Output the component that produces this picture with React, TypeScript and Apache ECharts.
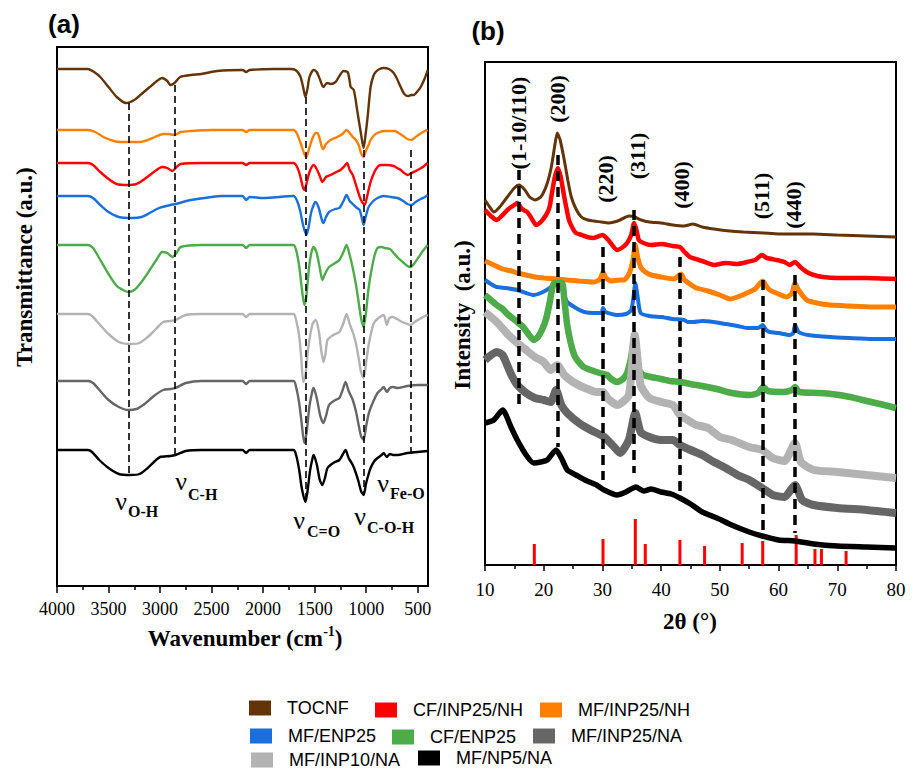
import React, { useEffect, useRef } from 'react';
import * as echarts from 'echarts';

const SERIF = "'Liberation Serif', 'Times New Roman', serif";
const SANS = "'Liberation Sans', Arial, sans-serif";

// ---------- names & colours ----------
const sampleNames = ['TOCNF', 'CF/INP25/NH', 'MF/INP25/NH', 'MF/ENP25', 'CF/ENP25', 'MF/INP25/NA', 'MF/INP10/NA', 'MF/NP5/NA'];
const sampleColors = ['#623408', '#ff0000', '#ff8000', '#1b6fdc', '#4dab4a', '#666666', '#b3b3b3', '#000000'];

// ---------- (a) FTIR, [wavenumber cm-1, transmittance a.u. (offset)] ----------
const ftirTOCNF = [[4000,517],[3700,517],[3640,514],[3580,509],[3500,499],[3420,489],[3330,483],[3250,486],[3180,492],[3100,499],[3030,505],[2980,508],[2930,505],[2900,501],[2860,503],[2805,509],[2700,511],[2600,512],[2445,515],[2200,516],[2165,514],[2130,516],[1900,517],[1735,517],[1686,516],[1640,510],[1610,498],[1590,489],[1570,497],[1550,509],[1510,516],[1480,514],[1450,507],[1415,499],[1380,503],[1345,502],[1297,504],[1260,510],[1220,515],[1180,514],[1160,505],[1150,499],[1120,496],[1083,473],[1050,452],[1025,438],[1005,452],[986,469],[957,499],[930,510],[908,514],[870,517],[830,518],[780,517],[733,513],[700,507],[665,499],[630,492],[597,490],[560,491],[539,491],[500,495],[471,499],[430,508],[403,516]];
const ftirMF_INP25_NH = [[4000,456],[3700,456],[3630,454],[3550,449],[3450,445],[3380,444],[3290,444],[3200,444],[3120,446],[3050,449],[2970,452],[2920,452],[2860,451],[2800,454],[2700,455],[2500,456],[2200,456],[2165,454],[2130,456],[1705,456],[1670,452],[1630,441],[1600,432],[1580,429],[1555,437],[1520,448],[1490,453],[1473,453],[1450,447],[1430,439],[1415,437],[1390,442],[1345,446],[1280,449],[1230,452],[1190,456],[1160,453],[1130,449],[1100,446],[1073,441],[1050,433],[1025,429],[1000,436],[976,441],[957,446],[920,451],[890,453],[830,455],[763,455],[720,455],[685,453],[640,450],[600,447],[560,446],[520,449],[480,452],[430,455],[403,456]];
const ftirCF_INP25_NH = [[4000,423],[3700,423],[3650,421],[3580,414],[3500,407],[3420,402],[3320,401],[3230,402],[3150,407],[3060,414],[2980,419],[2930,418],[2880,415],[2840,419],[2800,422],[2600,423],[2200,423],[2165,421],[2130,423],[1705,423],[1670,419],[1640,410],[1615,399],[1600,396],[1580,402],[1550,414],[1510,421],[1480,417],[1450,410],[1425,404],[1390,409],[1345,411],[1290,414],[1250,416],[1210,420],[1185,423],[1160,416],[1130,411],[1090,398],[1050,386],[1015,381],[990,390],[957,404],[920,414],[890,419],[860,421],[800,421],[733,420],[700,418],[665,416],[630,413],[597,411],[560,413],[500,416],[450,419],[403,423]];
const ftirMF_ENP25 = [[4000,390],[3700,390],[3650,388],[3580,381],[3500,374],[3400,369],[3270,368],[3180,369],[3100,373],[3030,377],[2980,379],[2900,381],[2850,382],[2700,386],[2500,389],[2400,390],[2200,390],[2165,386],[2130,389],[2000,388],[1705,390],[1670,385],[1640,375],[1610,360],[1580,351],[1560,358],[1530,375],[1490,384],[1460,378],[1430,366],[1415,363],[1390,369],[1360,374],[1300,377],[1260,378],[1220,385],[1190,391],[1160,385],[1120,381],[1090,378],[1063,376],[1040,367],[1025,361],[1005,369],[976,379],[930,385],[890,388],[830,390],[760,389],[695,388],[640,385],[600,382],[560,381],[520,384],[470,387],[430,389],[403,391]];
const ftirCF_ENP25 = [[4000,341],[3700,341],[3650,338],[3580,326],[3500,312],[3420,300],[3340,295],[3310,294],[3250,296],[3180,304],[3100,316],[3030,327],[2980,334],[2930,333],[2880,329],[2840,333],[2800,339],[2600,341],[2200,341],[2165,338],[2130,341],[1705,341],[1680,336],[1650,320],[1625,298],[1600,281],[1580,290],[1555,318],[1530,334],[1510,339],[1480,333],[1450,318],[1425,306],[1400,312],[1360,319],[1300,323],[1260,326],[1220,334],[1190,341],[1160,331],[1130,318],[1100,302],[1073,284],[1050,268],[1025,259],[1000,275],[980,295],[957,311],[920,330],[890,338],[850,339],[820,338],[770,337],[733,333],[690,328],[645,324],[600,320],[570,319],[530,323],[490,329],[450,335],[403,341]];
const ftirMF_INP10_NA = [[4000,272],[3700,272],[3660,270],[3590,262],[3500,252],[3400,244],[3290,242],[3200,243],[3120,249],[3040,257],[2970,264],[2900,265],[2850,266],[2750,271],[2600,272],[2200,272],[2165,269],[2130,272],[1705,272],[1680,266],[1650,250],[1630,228],[1610,204],[1590,210],[1560,240],[1520,262],[1490,266],[1460,255],[1435,235],[1415,224],[1395,232],[1375,246],[1320,251],[1260,254],[1220,263],[1190,272],[1160,262],[1130,254],[1100,243],[1073,228],[1050,214],[1025,208],[1000,224],[976,241],[950,254],[925,263],[880,268],[830,271],[800,261],[775,268],[745,269],[700,267],[650,264],[600,262],[570,261],[530,264],[480,267],[430,270],[403,271]];
const ftirMF_INP25_NA = [[4000,205],[3700,205],[3650,203],[3580,195],[3500,186],[3400,179],[3310,176],[3230,177],[3150,182],[3060,190],[2970,196],[2900,197],[2850,198],[2750,203],[2600,205],[2200,205],[2165,202],[2130,205],[1705,205],[1680,199],[1650,183],[1625,162],[1600,143],[1580,152],[1550,180],[1520,196],[1510,198],[1480,188],[1445,170],[1415,163],[1390,170],[1360,181],[1300,186],[1260,188],[1225,197],[1200,204],[1170,195],[1130,186],[1100,175],[1073,161],[1050,150],[1025,146],[1000,160],[976,172],[957,178],[920,187],[890,193],[850,197],[830,199],[800,194],[770,198],[740,199],[695,198],[600,200],[500,201],[403,201]];
const ftirMF_NP5_NA = [[4000,136],[3700,136],[3660,134],[3590,126],[3500,118],[3400,112],[3290,111],[3200,112],[3120,118],[3050,125],[3000,129],[2900,130],[2850,131],[2750,135],[2600,136],[2200,136],[2165,133],[2130,136],[1705,136],[1680,131],[1650,116],[1625,98],[1590,84],[1570,94],[1545,115],[1520,128],[1510,131],[1480,122],[1450,106],[1425,101],[1400,108],[1375,118],[1320,123],[1260,126],[1225,132],[1200,136],[1170,128],[1130,121],[1100,113],[1073,104],[1050,95],[1025,91],[1000,103],[976,112],[957,118],[920,125],[890,128],[850,131],[830,133],[800,129],[770,132],[740,131],[695,131],[600,133],[500,134],[403,135]];

const ftirMajorTicks = [500, 1000, 1500, 2000, 2500, 3000, 3500, 4000];
const ftirMinorTicks = [750, 1250, 1750, 2250, 2750, 3250, 3750];
// dashed guide lines: [wavenumber, from, to]
const ftirGuides = [[3300, 483, 109], [2860, 501, 129], [1585, 489, 86], [1025, 436, 91], [570, 436, 128]];

// ---------- (b) XRD, [2θ °, intensity a.u. (offset)] ----------
const xrdTOCNF = [[10,365],[10.8,358],[11.5,353],[12.5,358],[13.8,368],[15,377],[15.8,380],[16.8,375],[17.6,368],[18.5,365],[19.5,368],[20.5,380],[21.3,398],[21.9,420],[22.3,432],[22.8,425],[23.5,405],[24.1,385],[24.7,368],[25.5,356],[26.4,348],[27.5,345],[28.5,344],[29.8,343],[31,342],[32,343],[33,345],[34.5,349],[35.5,348],[36.6,345],[38,343],[40,342],[42,340],[43.9,339],[45.4,341],[47,338],[49,336],[51.7,334],[54,333],[57.4,332],[60,331],[62,331],[65.9,331],[70,330],[75,329],[80,328]];
const xrdCF_INP25_NH = [[10,355],[11,349],[12,345],[13,350],[14,356],[15,360],[15.5,362],[16.3,356],[17.2,353],[18,346],[18.7,340],[19.5,343],[20.4,350],[21,358],[21.4,372],[21.9,388],[22.4,397],[22.9,388],[23.5,368],[24.3,345],[25,336],[25.5,332],[26.5,330],[27.4,328],[28.5,327],[30,330],[31,325],[32.5,315],[33.5,318],[34.2,322],[34.9,330],[35.4,342],[35.8,335],[36.2,325],[37,322],[38.3,320],[40,321],[42,319],[43.2,318],[44,313],[44.9,308],[47,304],[49,300],[51,302],[53,301],[54.6,303],[56,305],[57.2,310],[58,307],[59.7,305],[61,303],[61.9,300],[62.8,303],[63.7,298],[64.8,293],[66,290],[67.6,288],[70,287],[75,287],[80,286]];
const xrdMF_INP25_NH = [[10,304],[11.5,300],[13,296],[14.5,294],[15.5,292],[17,290],[18.5,288],[20,287],[22.3,286],[24,285],[26,284],[28.6,283],[29.6,286],[30.1,293],[30.6,287],[31.5,284],[33,285],[33.7,285],[34.6,292],[35.2,305],[35.6,320],[36,308],[36.5,298],[37.3,293],[38.3,290],[40,288],[42.2,286],[43.4,291],[44,285],[44.9,281],[46,277],[48,274],[50,270],[51.7,266],[53,268],[54.6,272],[56,276],[57.3,284],[57.9,279],[58.5,275],[60,271],[61.4,268],[62.3,272],[62.8,282],[63.4,275],[64.8,265],[66.5,262],[68.8,260],[72,259],[76,258],[80,258]];
const xrdMF_ENP25 = [[10,285],[11,281],[12,278],[13.5,277],[15.5,275],[17,272],[18.3,270],[19.5,272],[20.5,275],[21.5,279],[22.3,281],[23,277],[24,263],[25.5,257],[26.9,253],[28.5,252],[29.8,252],[30.1,257],[30.5,253],[32.5,250],[34,251],[34.9,255],[35.3,268],[35.6,282],[36,268],[36.5,252],[38,249],[40,248],[42,246],[43.9,245],[44.5,243],[45.5,243],[47,244],[48.9,243],[51,241],[53,239],[54.6,237],[56.5,237],[57.3,240],[57.9,235],[58.5,233],[60,232],[61.9,230],[62.5,232],[62.8,240],[63.3,234],[63.7,232],[65,230],[68.8,228],[72,227],[76,226],[80,226]];
const xrdCF_ENP25 = [[10,270],[11,265],[12,260],[13,256],[14,250],[15.5,243],[16.5,238],[17.5,230],[18.3,225],[19,228],[19.7,235],[20.4,246],[21,262],[21.5,278],[21.8,282],[23.1,282],[23.5,266],[24,240],[24.6,222],[25.2,210],[25.7,205],[26.8,198],[28,195],[29.5,192],[30.8,190],[31.5,186],[32.5,183],[33.5,186],[34.2,192],[34.8,205],[35.4,225],[35.8,212],[36.2,195],[37,190],[38.3,188],[40,186],[41.5,184],[43.4,183],[45,181],[47,179],[49.5,176],[52,172],[55.1,170],[56.5,172],[57.4,178],[58.2,174],[60.8,173],[62.3,175],[62.8,178],[63.5,173],[66.6,172],[69,171],[72.2,168],[75,164],[78,160],[80,157]];
const xrdMF_INP25_NA = [[10,205],[12,213],[13,210],[14.5,190],[15.5,180],[17,172],[18.5,167],[20,165],[21.2,163],[22.1,175],[23,160],[24,152],[26,142],[28,135],[30.3,128],[32,118],[33,112],[34.5,125],[35.6,152],[36.5,133],[38,128],[40,125],[42,125],[43.2,120],[45,115],[47,110],[49,103],[51,97],[53,90],[55,85],[57.2,77],[59,70],[61,68],[62.8,80],[64,65],[66,60],[70,57],[75,55],[80,52]];
const xrdMF_INP10_NA = [[10,253],[12,243],[14,230],[15.5,222],[17,215],[18.5,208],[20,203],[21.2,195],[22.3,200],[23.5,190],[25,183],[27,177],[29,173],[30.1,173],[31,166],[32.5,160],[34.5,170],[35.5,230],[36.5,180],[38,167],[40,163],[42,160],[43.2,150],[44.5,145],[46,140],[48,137],[50,128],[52,125],[55,118],[57.2,115],[59,107],[61,104],[62.8,122],[63.8,103],[66,95],[70,93],[75,90],[80,87]];
const xrdMF_NP5_NA = [[10,142],[11.5,145],[13,155],[14.5,137],[15.5,125],[17,110],[18.3,102],[19.5,103],[20.6,105],[22.1,115],[23,107],[24,95],[25.5,90],[27,85],[29,80],[30.3,75],[32.5,70],[34,73],[35.7,78],[37,74],[38.3,76],[40,73],[41.7,71],[43.2,67],[45,61],[47,53],[49.5,47],[52,40],[55,33],[57.2,29],[60,25],[62.8,24],[66,21],[70,19],[75,18],[80,17]];

// Fe3O4 reference sticks [2θ, relative height]
const refSticks = [[18.4,21],[30.1,26],[35.6,46],[37.3,21],[43.2,25],[47.4,19],[53.8,22],[57.3,24],[63.0,30],[66.2,16],[67.3,16],[71.5,14]];
// dashed guides [2θ, from, to]
const xrdGuides = [[15.7, 395, 155], [22.4, 410, 118], [30.1, 318, 85], [35.4, 355, 92], [43.2, 308, 68], [57.3, 285, 35], [62.8, 290, 32]];
const xrdPeakLabels = ['(1-10/110)', '(200)', '(220)', '(311)', '(400)', '(511)', '(440)'];

const ftirData = [ftirTOCNF, ftirCF_INP25_NH, ftirMF_INP25_NH, ftirMF_ENP25, ftirCF_ENP25, ftirMF_INP25_NA, ftirMF_INP10_NA, ftirMF_NP5_NA];
const xrdData = [xrdTOCNF, xrdCF_INP25_NH, xrdMF_INP25_NH, xrdMF_ENP25, xrdCF_ENP25, xrdMF_INP25_NA, xrdMF_INP10_NA, xrdMF_NP5_NA];
const xrdWidths = [3, 4.5, 5, 4, 6.5, 8, 8, 5.5];

// layout (pixels)
const legendPos = [[249, 699], [375, 701], [540, 701], [250, 727], [392, 728], [533, 727], [251, 751], [418, 749]];
const peakLabelPos = [[518, 123], [557, 99], [605, 179], [637, 156], [681, 185], [761, 196], [793, 205]];

export default function App() {
  const ref = useRef<HTMLDivElement>(null);
  useEffect(() => {
    if (!ref.current) return;
    const chart = echarts.init(ref.current, undefined, { renderer: 'svg' });

    const series: any[] = [];

    sampleNames.forEach((n, i) => {
      series.push({
        type: 'line', name: n, data: ftirData[i], xAxisIndex: 0, yAxisIndex: 0,
        symbol: 'none', smooth: 0.25, color: sampleColors[i],
        lineStyle: { width: 2.4, color: sampleColors[i] }, z: 3,
      });
    });
    series.push({
      type: 'bar', name: 'Fe3O4 ref', data: refSticks, xAxisIndex: 2, yAxisIndex: 1,
      barWidth: 3, itemStyle: { color: '#ff0000' }, z: 2,
    });
    sampleNames.forEach((n, i) => {
      series.push({
        type: 'line', name: n, data: xrdData[i], xAxisIndex: 2, yAxisIndex: 1,
        symbol: 'none', smooth: 0.2, color: sampleColors[i],
        lineStyle: { width: xrdWidths[i], color: sampleColors[i] }, z: 3,
      });
    });
    series.push({
      type: 'line', name: 'guides-a', data: [], xAxisIndex: 0, yAxisIndex: 0, z: 5,
      markLine: {
        silent: true, symbol: 'none', label: { show: false },
        lineStyle: { type: [7, 4], color: '#000', width: 1.6 },
        data: ftirGuides.map(g => [{ coord: [g[0], g[1]] }, { coord: [g[0], g[2]] }]),
      },
    });
    series.push({
      type: 'line', name: 'guides-b', data: [], xAxisIndex: 2, yAxisIndex: 1, z: 5,
      markLine: {
        silent: true, symbol: 'none', label: { show: false },
        lineStyle: { type: [10, 6], color: '#000', width: 3.5 },
        data: xrdGuides.map(g => [{ coord: [g[0], g[1]] }, { coord: [g[0], g[2]] }]),
      },
    });

    const nu = (x: number, y: number, sub: string, sx: number, sy: number) => [
      { type: 'text', x, y, style: { text: 'ν', font: `26px ${SERIF}`, fill: '#000', align: 'center', verticalAlign: 'middle' } },
      { type: 'text', x: sx, y: sy, style: { text: sub, font: `bold 16px ${SERIF}`, fill: '#000', align: 'left', verticalAlign: 'middle' } },
    ];

    const graphic: any[] = [
      { type: 'text', x: 64, y: 24, style: { text: '(a)', font: `bold 26px ${SANS}`, fill: '#000', align: 'center', verticalAlign: 'middle' } },
      { type: 'text', x: 488, y: 31, style: { text: '(b)', font: `bold 26px ${SANS}`, fill: '#000', align: 'center', verticalAlign: 'middle' } },
      { type: 'text', x: 24, y: 267, rotation: Math.PI / 2, style: { text: 'Transmittance (a.u.)', font: `bold 23px ${SERIF}`, fill: '#000', align: 'center', verticalAlign: 'middle' } },
      { type: 'text', x: 462, y: 315, rotation: Math.PI / 2, style: { text: 'Intensity  (a.u.)', font: `bold 23px ${SERIF}`, fill: '#000', align: 'center', verticalAlign: 'middle' } },
      {
        type: 'text', x: 245, y: 637,
        style: {
          text: '{t|Wavenumber (cm}{s|-1}{t|)}', align: 'center', verticalAlign: 'middle',
          rich: {
            t: { font: `bold 23px ${SERIF}`, fill: '#000', lineHeight: 26, verticalAlign: 'bottom' },
            s: { font: `bold 14px ${SERIF}`, fill: '#000', lineHeight: 14, verticalAlign: 'top' },
          },
        },
      },
      { type: 'text', x: 690, y: 621, style: { text: '2θ (°)', font: `bold 23px ${SERIF}`, fill: '#000', align: 'center', verticalAlign: 'middle' } },
      ...nu(121, 501, 'O-H', 128, 511),
      ...nu(181, 481, 'C-H', 188, 494),
      ...nu(299, 520, 'C=O', 307, 531),
      ...nu(360, 516, 'C-O-H', 367, 527),
      ...nu(383, 483, 'Fe-O', 390, 493),
      ...xrdPeakLabels.map((t, i) => ({
        type: 'text', x: peakLabelPos[i][0], y: peakLabelPos[i][1], rotation: Math.PI / 2,
        style: { text: t, font: `bold 22px ${SERIF}`, fill: '#000', align: 'center', verticalAlign: 'middle' },
      })),
    ];

    chart.setOption({
      animation: false,
      backgroundColor: '#fff',
      grid: [
        { left: 57, top: 47, width: 371, height: 539, show: true, borderColor: '#000', borderWidth: 2, backgroundColor: 'transparent' },
        { left: 485, top: 62, width: 411, height: 503, show: true, borderColor: '#000', borderWidth: 2, backgroundColor: 'transparent' },
      ],
      xAxis: [
        {
          type: 'value', gridIndex: 0, min: 400, max: 4000, inverse: true, position: 'bottom',
          axisLine: { show: true, lineStyle: { color: '#000', width: 2 } },
          axisTick: { show: true, customValues: ftirMajorTicks, length: 7, lineStyle: { color: '#000', width: 1.5 } },
          axisLabel: {
            show: true, customValues: ftirMajorTicks, margin: 14,
            fontFamily: SERIF, fontSize: 18, color: '#000',
            formatter: (v: number) => String(v),
          },
          splitLine: { show: false },
        },
        {
          type: 'value', gridIndex: 0, min: 400, max: 4000, inverse: true, position: 'bottom',
          axisLine: { show: false },
          axisTick: { show: true, customValues: ftirMinorTicks, length: 4, lineStyle: { color: '#000', width: 1.5 } },
          axisLabel: { show: false },
          splitLine: { show: false },
        },
        {
          type: 'value', gridIndex: 1, min: 10, max: 80, interval: 10, position: 'bottom',
          axisLine: { show: true, lineStyle: { color: '#000', width: 2 } },
          axisTick: { show: true, length: 6, lineStyle: { color: '#000', width: 1.5 } },
          minorTick: { show: true, splitNumber: 2, length: 4, lineStyle: { color: '#000', width: 1.5 } },
          axisLabel: { margin: 15, fontFamily: SERIF, fontSize: 19, color: '#000' },
          splitLine: { show: false },
        },
      ],
      yAxis: [
        { type: 'value', gridIndex: 0, min: 0, max: 539, axisLine: { show: false }, axisTick: { show: false }, axisLabel: { show: false }, splitLine: { show: false } },
        { type: 'value', gridIndex: 1, min: 0, max: 503, axisLine: { show: false }, axisTick: { show: false }, axisLabel: { show: false }, splitLine: { show: false } },
      ],
      legend: sampleNames.map((n, i) => ({
        data: [n], left: legendPos[i][0], top: legendPos[i][1], padding: 0,
        itemWidth: 22, itemHeight: 15, icon: 'rect', selectedMode: false,
        textStyle: { fontFamily: SANS, fontSize: 18, lineHeight: 16, color: '#000', padding: [0, 0, 0, 11] },
      })),
      series,
      graphic,
    });
    return () => chart.dispose();
  }, []);
  return <div ref={ref} style={{ position: 'absolute', left: 0, top: 0, width: 917, height: 771 }} />;
}
